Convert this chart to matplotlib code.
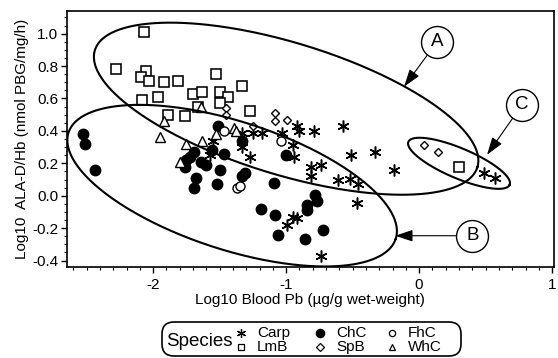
import numpy as np
import matplotlib
matplotlib.use("Agg")
import matplotlib.pyplot as plt
from matplotlib.lines import Line2D
from matplotlib.patches import FancyBboxPatch

plt.rcParams['font.family'] = ['Liberation Sans', 'DejaVu Sans']

# log10 blood Pb vs log10 ALA-D/Hb
carp_x = [-0.92, -0.90, -1.03, -1.18, -1.25, -1.33, -0.95, -1.55, -1.57, -1.33,
          -1.27, -0.94, -0.945, -0.92, -0.995, -0.79, -0.57, -0.51, -0.33, -0.19,
          -0.81, -0.74, -0.81, -0.61, -0.52, -0.46, -0.47, 0.49, 0.57, -0.74]
carp_y = [0.43, 0.40, 0.39, 0.39, 0.39, 0.39, 0.31, 0.335, 0.25, 0.30,
          0.24, 0.24, -0.13, -0.14, -0.18, 0.40, 0.43, 0.25, 0.27, 0.16,
          0.18, 0.19, 0.12, 0.095, 0.105, 0.07, -0.045, 0.14, 0.11, -0.37]

lmb_x = [-2.07, -2.28, -2.05, -2.09, -2.03, -1.92, -1.81, -1.53, -1.33, -1.70,
         -1.63, -1.50, -1.44, -1.50, -1.96, -2.08, -1.27, -1.66, -1.89, -1.76, 0.30]
lmb_y = [1.01, 0.78, 0.77, 0.73, 0.71, 0.70, 0.71, 0.75, 0.68, 0.63,
         0.64, 0.64, 0.61, 0.57, 0.61, 0.59, 0.52, 0.545, 0.50, 0.49, 0.18]

chc_x = [-2.53, -2.51, -2.44, -1.51, -1.33, -1.56, -1.47, -1.69, -1.72, -1.75,
         -1.76, -1.64, -1.60, -1.50, -1.68, -1.69, -1.52, -1.33, -1.31, -1.09,
         -1.00, -1.19, -1.08, -1.06, -0.86, -0.84, -0.84, -0.78, -0.77, -0.72]
chc_y = [0.38, 0.32, 0.16, 0.43, 0.34, 0.28, 0.26, 0.27, 0.24, 0.22,
         0.18, 0.21, 0.19, 0.16, 0.11, 0.05, 0.07, 0.12, 0.14, 0.08,
         0.25, -0.08, -0.12, -0.24, -0.27, -0.06, -0.09, 0.005, -0.035, -0.21]

spb_x = [-1.45, -1.45, -1.08, -1.08, -0.99, -1.25, 0.04, 0.14]
spb_y = [0.54, 0.50, 0.51, 0.46, 0.47, 0.43, 0.31, 0.27]

fhc_x = [-1.47, -1.37, -1.35, -1.04]
fhc_y = [0.40, 0.05, 0.06, 0.335]

whc_x = [-1.64, -1.95, -1.92, -1.75, -1.63, -1.53, -1.39, -1.38, -1.80]
whc_y = [0.55, 0.36, 0.46, 0.32, 0.34, 0.38, 0.42, 0.40, 0.21]

# grouping ellipses: centre (data), semi axes (px), tilt (deg, clockwise)
groups = {'A': (-1.0, 0.537, 200, 66, 17),
          'B': (-1.406, 0.062, 172, 64, 18),
          'C': (0.30, 0.20, 55, 15, 23)}
# label bubble position and arrow tip (data)
callouts = {'A': ((0.135, 0.95), (-0.113, 0.673)),
            'B': ((0.40, -0.247), (-0.18, -0.247)),
            'C': ((0.775, 0.562), (0.511, 0.253))}

fig = plt.figure(figsize=(5.58, 3.58), dpi=100)
ax = fig.add_axes([0.1195, 0.2542, 0.8733, 0.7151])
xlim = (-2.65, 1.014)
ylim = (-0.44, 1.14)
ax.set_xlim(xlim)
ax.set_ylim(ylim)

mk = dict(ls='none', color='k')
ax.plot(carp_x, carp_y, marker=(6, 2, 0), ms=8.5, mew=1.1, **mk)
ax.plot(lmb_x, lmb_y, marker='s', ms=6.5, mfc='white', mew=1.15, **mk)
ax.plot(chc_x, chc_y, marker='o', ms=7.5, **mk)
ax.plot(spb_x, spb_y, marker='D', ms=4.5, mfc='white', mew=1.0, **mk)
ax.plot(fhc_x, fhc_y, marker='o', ms=6.5, mfc='white', mew=1.0, **mk)
ax.plot(whc_x, whc_y, marker='^', ms=6.5, mfc='white', mew=1.0, **mk)

# pixels per data unit, so ellipses can be drawn in screen terms
sx = fig.get_figwidth() * fig.dpi * 0.8733 / (xlim[1] - xlim[0])
sy = fig.get_figheight() * fig.dpi * 0.7151 / (ylim[1] - ylim[0])
t = np.linspace(0, 2 * np.pi, 400)
for key, (cx, cy, a, b, deg) in groups.items():
    th = np.radians(deg)
    u, v = a * np.cos(t), b * np.sin(t)
    dx = u * np.cos(th) - v * np.sin(th)
    dy = -(u * np.sin(th) + v * np.cos(th))
    ax.plot(cx + dx / sx, cy + dy / sy, color='k', lw=1.5)

for key, (pos, tip) in callouts.items():
    ax.annotate('', xy=tip, xytext=pos,
                arrowprops=dict(arrowstyle='-|>,head_length=0.9,head_width=0.3',
                                color='k', lw=0.8, shrinkA=12, shrinkB=0,
                                mutation_scale=12))
    ax.plot(*pos, marker='o', ms=23, mfc='white', mec='k', mew=1.0, zorder=5)
    ax.text(*pos, key, ha='center', va='center', fontsize=13.5, zorder=6)

ax.set_xticks([-2, -1, 0, 1])
ax.set_xticks(np.arange(-2.6, 1.01, 0.1), minor=True)
ax.set_yticks(np.arange(-0.4, 1.01, 0.2))
ax.set_yticks(np.arange(-0.4, 1.14, 0.05), minor=True)
ax.set_xticklabels(['-2', '-1', '0', '1'])
ax.set_yticklabels(['-0.4', '-0.2', '0.0', '0.2', '0.4', '0.6', '0.8', '1.0'])
ax.tick_params(which='major', direction='out', length=4, width=1, labelsize=11, pad=2)
ax.tick_params(which='minor', direction='out', length=2.2, width=0.8)
ax.tick_params(axis='x', pad=4)
for s in ax.spines.values():
    s.set_linewidth(1.2)

ax.set_xlabel('Log10 Blood Pb (µg/g wet-weight)', fontsize=11, labelpad=1)
ax.set_ylabel('Log10  ALA-D/Hb (nmol PBG/mg/h)', fontsize=11, labelpad=2)

# species key under the chart, laid out in inches
tr = fig.dpi_scale_trans
fig.add_artist(FancyBboxPatch((1.62, 0.02), 2.99, 0.34,
                              boxstyle='round,pad=0,rounding_size=0.12',
                              fc='white', ec='k', lw=1.2, transform=tr))
fig.text(1.66, 0.165, 'Species', fontsize=13.5, va='center', transform=tr)
key_items = [('Carp', (6, 2, 0), 'k', 6.5, 2.41, 0.25),
             ('LmB', 's', 'white', 5, 2.41, 0.11),
             ('ChC', 'o', 'k', 6, 3.20, 0.25),
             ('SpB', 'D', 'white', 4, 3.20, 0.11),
             ('FhC', 'o', 'white', 4.5, 3.92, 0.25),
             ('WhC', '^', 'white', 5, 3.92, 0.11)]
for name, m, fc, ms, x, y in key_items:
    fig.add_artist(Line2D([x], [y], marker=m, ms=ms, mfc=fc, mec='k', mew=0.9,
                          ls='none', transform=tr))
    fig.text(x + 0.16, y, name, fontsize=11, va='center', transform=tr)

fig.savefig('out.png', dpi=100)
